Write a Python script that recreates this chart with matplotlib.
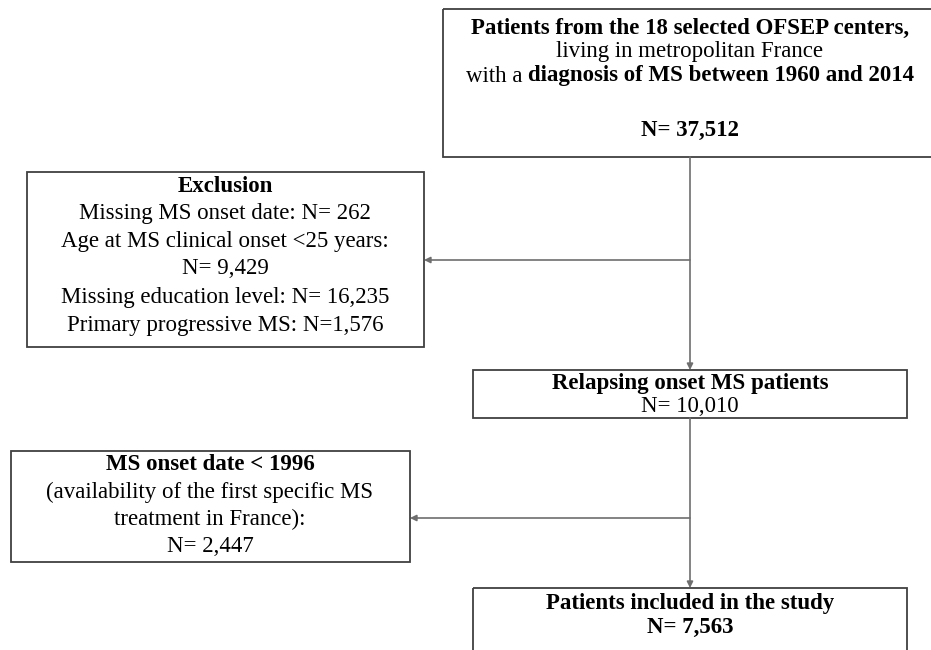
import matplotlib.pyplot as plt
from matplotlib.patches import Rectangle

# Flowchart content
n_values = ['37,512', '10,010', '7,563']
n_excluded = ['262', '9,429', '16,235', '1,576', '2,447']
excl_reasons = ['Missing MS onset date:', 'Age at MS clinical onset <25 years:',
                'Missing education level:', 'Primary progressive MS:']
step_titles = ['Relapsing onset MS patients', 'Patients included in the study']
late_title = 'MS onset date < 1996'
late_note = ['(availability of the first specific MS', 'treatment in France):']

W, H = 931, 650
FS = 16.5
FONT = 'Liberation Serif'
EDGE = '#404040'
LINE = '#6e6e6e'

fig = plt.figure(figsize=(W / 100, H / 100), dpi=100)
ax = fig.add_axes([0, 0, 1, 1])
ax.set_xlim(0, W)
ax.set_ylim(H, 0)
ax.axis('off')
renderer = fig.canvas.get_renderer()


def box(x0, y0, x1, y1):
    ax.add_patch(Rectangle((x0, y0), x1 - x0, y1 - y0, fill=False,
                           edgecolor=EDGE, linewidth=1.3))


def line(x, y, s, weight='normal'):
    ax.text(x, y, s, ha='center', va='center', fontsize=FS,
            family=FONT, weight=weight)


def mixed(x, y, parts):
    # parts: list of (text, weight), joined by single spaces, centred on x
    items = []
    for s, w in parts:
        t = ax.text(0, y, s, ha='left', va='center', fontsize=FS,
                    family=FONT, weight=w)
        items.append((t, t.get_window_extent(renderer).width))
    gap = FS * 0.25 * 100 / 72
    total = sum(w for _, w in items) + gap * (len(items) - 1)
    cur = x - total / 2
    for t, w in items:
        t.set_x(cur)
        cur += w + gap


def arrow(x0, y0, x1, y1):
    ax.annotate('', xy=(x1, y1), xytext=(x0, y0),
                arrowprops=dict(arrowstyle='-|>', color=LINE, lw=1.2,
                                mutation_scale=9, shrinkA=0, shrinkB=0))


cx = 690

# top box (right edge runs past the image border)
box(443, 9, 940, 157)
line(cx, 28, 'Patients from the 18 selected OFSEP centers,', 'bold')
line(cx, 52, 'living in metropolitan France')
mixed(cx, 76, [('with a', 'normal'),
               ('diagnosis of MS between 1960 and 2014', 'bold')])
line(cx, 130, 'N= ' + n_values[0], 'bold')

# exclusion box
box(27, 172, 424, 347)
ex = 225
line(ex, 186, 'Exclusion', 'bold')
line(ex, 213, excl_reasons[0] + ' N= ' + n_excluded[0])
line(ex, 241, excl_reasons[1])
line(ex, 269, 'N= ' + n_excluded[1])
line(ex, 297, excl_reasons[2] + ' N= ' + n_excluded[2])
line(ex, 325, excl_reasons[3] + ' N=' + n_excluded[3])

# relapsing box
box(473, 370, 907, 418)
line(cx, 384, step_titles[0], 'bold')
line(cx, 406, 'N= ' + n_values[1])

# onset < 1996 box
box(11, 451, 410, 562)
mx = 210
line(mx, 465, late_title, 'bold')
line(mx, 492, late_note[0])
line(mx, 519, late_note[1])
line(mx, 546, 'N= ' + n_excluded[4])

# included box
box(473, 588, 907, 660)
line(cx, 604, step_titles[1], 'bold')
line(cx, 627, 'N= ' + n_values[2], 'bold')

# connectors
arrow(cx, 157, cx, 370)
arrow(cx, 260, 424, 260)
arrow(cx, 418, cx, 588)
arrow(cx, 518, 410, 518)

fig.savefig('out.png', dpi=100, facecolor='white')
